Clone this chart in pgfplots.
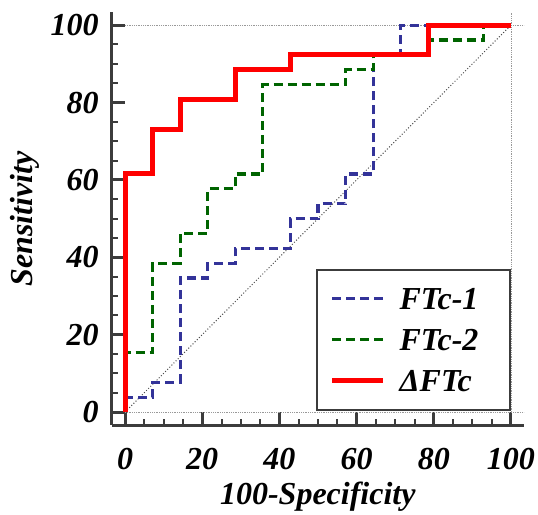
\documentclass[border=0pt]{standalone}
\usepackage{fontspec}
\setmainfont{Liberation Serif}
\usepackage{pgfplots}
\pgfplotsset{compat=1.18}
\definecolor{ablue}{RGB}{51,51,153}
\definecolor{agreen}{RGB}{0,100,0}
\definecolor{axgray}{RGB}{60,60,60}
\newcommand{\ff}{\fontsize{32bp}{38bp}\selectfont\bfseries\itshape}
\begin{document}
\begin{tikzpicture}
\begin{axis}[
  scale only axis,
  width=411.9bp, height=412.9bp,
  xmin=-3.4, xmax=103.3, ymin=-3.4, ymax=103.3,
  clip=false,
  axis x line=bottom, axis y line=left,
  axis line style={-, line width=3bp, color=axgray},
  xtick={0,20,...,100}, ytick={0,20,...,100},
  minor x tick num=3, minor y tick num=3,
  tick align=inside,
  major tick length=13bp, minor tick length=6bp,
  major tick style={line width=3bp, color=axgray},
  minor tick style={line width=2bp, color=axgray},
  /pgf/number format/assume math mode=true,
  tick label style={font=\ff},
  xticklabel style={anchor=base, inner sep=0pt, yshift=-44bp},
  yticklabel style={anchor=east, inner sep=0pt, xshift=-13bp},
  xlabel={100-Specificity}, ylabel={Sensitivity},
  label style={font=\ff},
  xlabel style={at={(axis description cs:0.5,-0.191)}, anchor=base},
  ylabel style={at={(axis description cs:-0.212,0.5)}, anchor=center},
  legend style={at={(axis cs:99.9,0.3)}, anchor=south east, draw=axgray, line width=2bp, fill=white,
    font=\ff, inner xsep=13bp, inner ysep=18bp, row sep=19bp,
    nodes={inner sep=0pt, text height=22bp, text depth=0bp},
    /tikz/every odd column/.append style={column sep=14bp},
    /tikz/column 2/.style={text width=97bp}},
  legend cell align=left,
  legend image code/.code={\draw[#1] (0bp,0bp) -- (51bp,0bp);},
]
\path (axis cs:-32.4,-26.4) rectangle (axis cs:107,106.5);
\addplot[black!70, dotted, line width=1bp, forget plot] coordinates {(0,0) (100,100)};
\addplot[gray!80, densely dotted, line width=0.8bp, forget plot] coordinates {(0,0) (103.3,0)};
\addplot[gray!80, densely dotted, line width=0.8bp, forget plot] coordinates {(0,100) (103.3,100)};
\addplot[gray!80, densely dotted, line width=0.8bp, forget plot] coordinates {(100,0) (100,103.3)};
\addplot[ablue, line width=3.2bp, dash pattern=on 9bp off 5bp] coordinates {
(0,0) (0,3.85) (7.14,3.85) (7.14,7.69) (14.29,7.69) (14.29,34.62) (21.43,34.62) (21.43,38.46) (28.57,38.46) (28.57,42.31) (42.86,42.31) (42.86,50) (50,50) (50,53.85) (57.14,53.85) (57.14,61.54) (64.29,61.54) (64.29,92.31) (71.43,92.31) (71.43,100) (100,100)};
\addlegendentry{FTc-1}
\addplot[agreen, line width=3.2bp, dash pattern=on 9bp off 5bp] coordinates {
(0,0) (0,15.38) (7.14,15.38) (7.14,38.46) (14.29,38.46) (14.29,46.15) (21.43,46.15) (21.43,57.69) (28.57,57.69) (28.57,61.54) (35.71,61.54) (35.71,84.62) (57.14,84.62) (57.14,88.46) (64.29,88.46) (64.29,92.31) (78.57,92.31) (78.57,96.15) (92.86,96.15) (92.86,100) (100,100)};
\addlegendentry{FTc-2}
\addplot[red, line width=5bp] coordinates {
(0,0) (0,61.54) (7.14,61.54) (7.14,73.08) (14.29,73.08) (14.29,80.77) (28.57,80.77) (28.57,88.46) (42.86,88.46) (42.86,92.31) (78.57,92.31) (78.57,100) (100,100)};
\addlegendentry{ΔFTc}
\end{axis}
\end{tikzpicture}
\end{document}
